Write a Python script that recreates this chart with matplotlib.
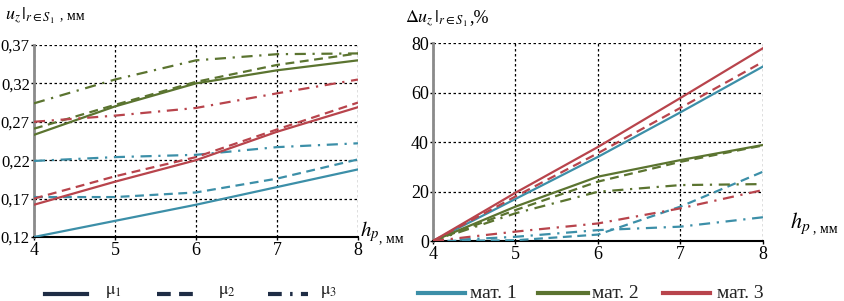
import numpy as np
import matplotlib.pyplot as plt
from matplotlib.lines import Line2D

plt.rcParams['font.family'] = ['Liberation Serif', 'DejaVu Serif']
plt.rcParams['mathtext.fontset'] = 'stix'

# ── data ───────────────────────────────────────────────────
hp = [4, 5, 6, 7, 8]

# u_z, мм  (mat 1/2/3, mu 1/2/3)
uz_m1_mu1 = [0.120, 0.141, 0.162, 0.185, 0.208]
uz_m1_mu2 = [0.172, 0.172, 0.178, 0.196, 0.221]
uz_m1_mu3 = [0.219, 0.224, 0.227, 0.237, 0.242]
uz_m2_mu1 = [0.253, 0.290, 0.320, 0.337, 0.350]
uz_m2_mu2 = [0.261, 0.292, 0.322, 0.344, 0.359]
uz_m2_mu3 = [0.294, 0.325, 0.350, 0.358, 0.359]
uz_m3_mu1 = [0.162, 0.192, 0.220, 0.257, 0.289]
uz_m3_mu2 = [0.170, 0.199, 0.224, 0.260, 0.295]
uz_m3_mu3 = [0.270, 0.278, 0.288, 0.307, 0.325]

# delta u_z, %
du_m1_mu1 = [0, 17.0, 34.0, 52.0, 70.5]
du_m1_mu2 = [0, 0.3, 2.6, 13.9, 28.0]
du_m1_mu3 = [0, 1.7, 4.4, 5.8, 9.6]
du_m2_mu1 = [0, 13.9, 26.0, 32.7, 38.8]
du_m2_mu2 = [0, 12.5, 24.0, 32.0, 38.6]
du_m2_mu3 = [0, 11.2, 19.9, 22.6, 23.0]
du_m3_mu1 = [0, 19.5, 38.0, 57.8, 77.9]
du_m3_mu2 = [0, 18.0, 35.5, 53.8, 72.4]
du_m3_mu3 = [0, 3.8, 7.1, 13.2, 20.6]

uz_ticks = [0.12, 0.17, 0.22, 0.27, 0.32, 0.37]
du_ticks = [0, 20, 40, 60, 80]
mat_labels = ['мат. 1', 'мат. 2', 'мат. 3']
mu_labels = [r'$\mathrm{\mu}_1$', r'$\mathrm{\mu}_2$', r'$\mathrm{\mu}_3$']

C_TEAL = '#3c8fa8'
C_GREEN = '#5b7430'
C_RED = '#b8444c'
C_NAVY = '#1f2d45'
STYLES = ['-', (0, (4, 2.5)), (0, (5, 3, 1, 3))]


def style_axes(ax):
    ax.grid(True, color='black', linestyle=(0, (2, 2)), linewidth=0.9)
    ax.spines['top'].set_visible(False)
    ax.spines['right'].set_visible(False)
    ax.spines['left'].set_color('#8a8a8a')
    ax.spines['left'].set_linewidth(2)
    ax.spines['bottom'].set_linewidth(1.5)
    ax.tick_params(direction='out', length=2.5, width=1, labelsize=13, pad=1)
    ax.tick_params(axis='y', pad=0.5)
    ax.set_xticks(hp)
    ax.set_xlim(4, 8)


fig = plt.figure(figsize=(8.45, 3.01), dpi=100)

# ── left: u_z ──────────────────────────────────────────────
ax1 = fig.add_axes([0.0402, 0.2126, 0.3834, 0.638])
series1 = [
    (uz_m1_mu1, uz_m1_mu2, uz_m1_mu3, C_TEAL),
    (uz_m2_mu1, uz_m2_mu2, uz_m2_mu3, C_GREEN),
    (uz_m3_mu1, uz_m3_mu2, uz_m3_mu3, C_RED),
]
for a, b, c, col in series1:
    for vals, ls in zip((a, b, c), STYLES):
        ax1.plot(hp, vals, color=col, linestyle=ls, linewidth=1.6, zorder=3)
style_axes(ax1)
ax1.set_ylim(0.12, 0.37)
ax1.set_yticks(uz_ticks)
ax1.set_yticklabels([f'{t:.2f}'.replace('.', ',') for t in uz_ticks])
ax1.tick_params(axis='y', labelsize=12)

# ── right: delta u_z ───────────────────────────────────────
ax2 = fig.add_axes([0.5124, 0.1993, 0.3905, 0.6578])
series2 = [
    (du_m1_mu1, du_m1_mu2, du_m1_mu3, C_TEAL),
    (du_m2_mu1, du_m2_mu2, du_m2_mu3, C_GREEN),
    (du_m3_mu1, du_m3_mu2, du_m3_mu3, C_RED),
]
for a, b, c, col in series2:
    for vals, ls in zip((a, b, c), STYLES):
        ax2.plot(hp, vals, color=col, linestyle=ls, linewidth=1.6, zorder=3)
style_axes(ax2)
ax2.set_ylim(0, 80)
ax2.set_yticks(du_ticks)

# ── axis titles ────────────────────────────────────────────
fig.text(0.006, 0.935, r'$u_z\,|_{r\in S_1}$', fontsize=13, va='baseline')
fig.text(0.071, 0.935, ', мм', fontsize=10, va='baseline')
fig.text(0.479, 0.925, r'$\Delta u_z\,|_{r\in S_1}$', fontsize=13, va='baseline')
fig.text(0.556, 0.925, ',%', fontsize=13, va='baseline')

fig.text(0.426, 0.216, r'$h_p$', fontsize=15, va='baseline')
fig.text(0.448, 0.196, ', мм', fontsize=10, va='baseline')
fig.text(0.935, 0.243, r'$h_p$', fontsize=16, va='baseline')
fig.text(0.962, 0.229, ', мм', fontsize=10, va='baseline')

# ── legends (drawn by hand in figure pixels) ───────────────
W, H = 845.0, 301.0
mu_styles = ['-', (0, (3.3, 2)), (0, (3.3, 2, 0.6, 2))]
mu_x = [(45, 87, 105), (157, 200, 218), (268, 308, 320)]
for (x0, x1, xt), ls, lab in zip(mu_x, mu_styles, mu_labels):
    fig.add_artist(Line2D([x0 / W, x1 / W], [1 - 294 / H] * 2, color=C_NAVY,
                          linestyle=ls, linewidth=3, transform=fig.transFigure))
    fig.text(xt / W, 1 - 291 / H, lab, fontsize=13, va='center', color='#222222')

mat_x = [(418, 465, 470), (538, 588, 592), (663, 710, 717)]
for (x0, x1, xt), col, lab in zip(mat_x, (C_TEAL, C_GREEN, C_RED), mat_labels):
    fig.add_artist(Line2D([x0 / W, x1 / W], [1 - 293 / H] * 2, color=col,
                          linewidth=3, transform=fig.transFigure))
    fig.text(xt / W, 1 - 293 / H, lab, fontsize=14, va='center', color='#222222')

fig.savefig('out.png', dpi=100)
